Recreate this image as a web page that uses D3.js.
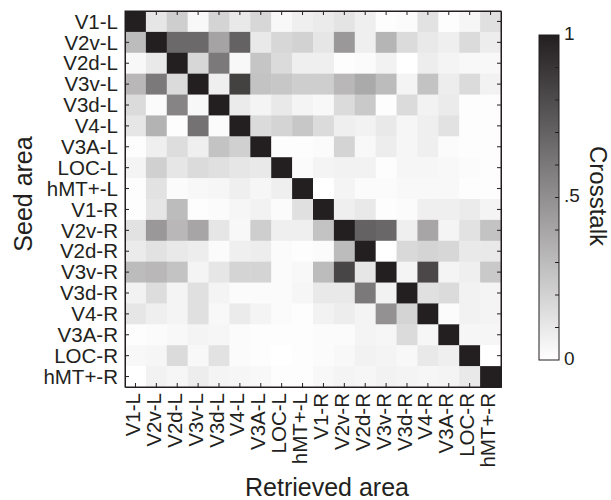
<!DOCTYPE html>
<html>
<head>
<meta charset="utf-8">
<script src="https://cdn.jsdelivr.net/npm/d3@7"></script>
<style>
  body { margin: 0; background: #fff; }
</style>
</head>
<body>
<div id="chart"></div>
<script>
// areas used for both seed (rows) and retrieved (columns)
const areas = ["V1-L", "V2v-L", "V2d-L", "V3v-L", "V3d-L", "V4-L", "V3A-L", "LOC-L", "hMT+-L",
  "V1-R", "V2v-R", "V2d-R", "V3v-R", "V3d-R", "V4-R", "V3A-R", "LOC-R", "hMT+-R"];

// crosstalk values, one row per seed area
const crosstalk = [
  [1, .11, .22, .03, .19, .10, .18, .03, .07, .09, .12, .07, .01, .02, .13, .01, .04, .14],
  [.30, 1, .67, .67, .41, .70, .10, .18, .20, .11, .46, .07, .33, .16, .10, .07, .16, .08],
  [.03, .10, 1, .18, .60, .03, .26, .16, .07, .07, .01, .02, .06, 0, .08, .05, .03, .03],
  [.32, .60, .16, 1, .07, .85, .27, .25, .22, .22, .32, .38, .30, .05, .27, .08, .16, .06],
  [.16, .02, .55, .03, 1, .09, .05, .10, .05, .03, .16, .24, .01, .16, .06, .09, .01, .01],
  [.11, .34, .01, .63, .02, 1, .16, .19, .25, .16, .07, .06, .10, .04, .07, .13, .01, .01],
  [.01, .07, .15, .07, .27, .21, 1, .01, .01, .02, .19, .03, .08, .04, .07, .02, .01, .01],
  [.05, .21, .11, .16, .14, .11, .10, 1, .02, .05, .06, .06, .01, .04, .04, .03, .02, .01],
  [.01, .13, .02, .03, .04, .07, .04, .07, 1, 0, .05, .02, .02, .03, .03, .03, .01, .01],
  [.01, .11, .30, .01, .02, .04, .06, .02, .14, 1, .07, .10, .01, .02, .07, .07, .09, .05],
  [.13, .46, .32, .40, .11, .03, .22, .07, .07, .27, 1, .70, .68, .07, .40, .05, .13, .27],
  [.09, .13, .10, .08, .02, .07, .08, .02, .01, .02, .30, 1, 0, .17, .19, .18, .10, .10],
  [.30, .32, .27, .05, .11, .19, .19, .02, .03, .30, .83, .11, 1, .05, .82, .05, .07, .24],
  [.06, .15, .05, .14, .05, .02, .02, .02, .04, .10, .10, .60, .06, 1, .14, .16, .06, .05],
  [.11, .07, .05, .14, .03, .09, .05, .02, .01, .06, .08, .05, .49, .19, 1, .02, .06, .05],
  [.01, .02, .03, .05, .04, .02, .01, .01, .01, .02, .02, .05, .04, .16, .04, 1, .04, .04],
  [.03, .04, .16, .03, .13, .02, .01, 0, .01, .02, .03, .06, .05, .03, .10, .07, 1, 0],
  [0, .06, .04, .08, .05, .04, .03, .01, .01, .03, .05, .04, .06, .05, .04, .05, .10, 1]
];

// colorbar ticks
const colorbarLabelValues = [0, 0.5, 1];
const colorbarLabels = ["0", ".5", "1"];
const colorbarMinorTicks = [0.1, 0.2, 0.3, 0.4, 0.5, 0.6, 0.7, 0.8, 0.9];

const ink = "#231f20";
const font = "'Liberation Sans', Arial, Helvetica, sans-serif";

class Heatmap {
  constructor() {
    const attrs = {
      container: "#chart",
      svgWidth: 611,
      svgHeight: 500,
      marginLeft: 125,
      marginTop: 11,
      size: 376,
      barX: 539,
      barWidth: 20,
      barTop: 35,
      barBottom: 360
    };
    this.getState = () => attrs;
    this.setState = (d) => Object.assign(attrs, d);
  }

  render() {
    this.drawSvg();
    this.drawCells();
    this.drawAxes();
    this.drawColorbar();
    return this;
  }

  drawSvg() {
    const { container, svgWidth, svgHeight, marginLeft, marginTop } = this.getState();
    const svg = d3.select(container).append("svg")
      .attr("width", svgWidth)
      .attr("height", svgHeight)
      .attr("font-family", font);
    const chart = svg.append("g")
      .attr("transform", `translate(${marginLeft},${marginTop})`);
    const color = d3.scaleLinear().domain([0, 1]).range(["#ffffff", ink]);
    this.setState({ svg, chart, color });
  }

  drawCells() {
    const { chart, size, color } = this.getState();
    const x = d3.scaleBand().domain(areas).range([0, size]);
    const y = d3.scaleBand().domain(areas).range([0, size]);

    const cells = [];
    crosstalk.forEach((row, i) => {
      row.forEach((v, j) => cells.push({ seed: areas[i], retrieved: areas[j], value: v }));
    });

    chart.selectAll("rect.cell")
      .data(cells)
      .join("rect")
      .attr("class", "cell")
      .attr("x", d => x(d.retrieved))
      .attr("y", d => y(d.seed))
      .attr("width", x.bandwidth() + 0.5)
      .attr("height", y.bandwidth() + 0.5)
      .attr("fill", d => color(d.value));

    this.setState({ x, y });
  }

  drawAxes() {
    const { chart, svg, x, y, size } = this.getState();

    const styleAxis = (g) => {
      g.selectAll("path, line").attr("stroke", ink);
      g.selectAll("text").attr("fill", ink).attr("font-size", 20.5).attr("font-family", font);
    };

    const left = chart.append("g")
      .call(d3.axisLeft(y).tickSizeInner(-4).tickSizeOuter(0).tickPadding(7))
      .call(styleAxis);
    left.selectAll("text").attr("dy", "0.35em");

    const bottom = chart.append("g")
      .attr("transform", `translate(0,${size})`)
      .call(d3.axisBottom(x).tickSizeInner(-4).tickSizeOuter(0))
      .call(styleAxis);
    bottom.selectAll("text")
      .attr("transform", "rotate(-90)")
      .attr("text-anchor", "end")
      .attr("x", -6)
      .attr("y", 0)
      .attr("dy", "0.22em");

    chart.append("g")
      .call(d3.axisTop(x).tickSizeInner(-4).tickSizeOuter(0).tickFormat(""))
      .call(styleAxis);
    chart.append("g")
      .attr("transform", `translate(${size},0)`)
      .call(d3.axisRight(y).tickSizeInner(-4).tickSizeOuter(0).tickFormat(""))
      .call(styleAxis);

    chart.append("rect")
      .attr("width", size)
      .attr("height", size)
      .attr("fill", "none")
      .attr("stroke", ink);

    // axis titles
    svg.append("text")
      .attr("transform", "translate(32,194) rotate(-90)")
      .attr("text-anchor", "middle")
      .attr("font-size", 25)
      .attr("fill", ink)
      .text("Seed area");

    svg.append("text")
      .attr("x", 327)
      .attr("y", 496)
      .attr("text-anchor", "middle")
      .attr("font-size", 25)
      .attr("fill", ink)
      .text("Retrieved area");
  }

  drawColorbar() {
    const { svg, color, barX, barWidth, barTop, barBottom } = this.getState();
    const scale = d3.scaleLinear().domain([0, 1]).range([barBottom, barTop]);

    const grad = svg.append("defs").append("linearGradient")
      .attr("id", "cbar")
      .attr("x1", 0).attr("y1", 1).attr("x2", 0).attr("y2", 0);
    grad.selectAll("stop")
      .data(d3.range(0, 1.01, 0.1))
      .join("stop")
      .attr("offset", d => d)
      .attr("stop-color", d => color(d));

    svg.append("rect")
      .attr("x", barX)
      .attr("y", barTop)
      .attr("width", barWidth)
      .attr("height", barBottom - barTop)
      .attr("fill", "url(#cbar)")
      .attr("stroke", ink)
      .attr("stroke-width", 1);

    svg.selectAll("line.cbtick")
      .data(colorbarMinorTicks)
      .join("line")
      .attr("class", "cbtick")
      .attr("x1", barX + barWidth - 4)
      .attr("x2", barX + barWidth)
      .attr("y1", d => scale(d))
      .attr("y2", d => scale(d))
      .attr("stroke", ink);

    svg.selectAll("text.cblabel")
      .data(colorbarLabelValues)
      .join("text")
      .attr("class", "cblabel")
      .attr("x", barX + barWidth + 5)
      .attr("y", d => scale(d) - 2)
      .attr("dy", "0.35em")
      .attr("font-size", 19)
      .attr("fill", ink)
      .text((d, i) => colorbarLabels[i]);

    svg.append("text")
      .attr("transform", "translate(590,196) rotate(90)")
      .attr("text-anchor", "middle")
      .attr("font-size", 24)
      .attr("fill", ink)
      .text("Crosstalk");
  }
}

new Heatmap().render();
</script>
</body>
</html>
